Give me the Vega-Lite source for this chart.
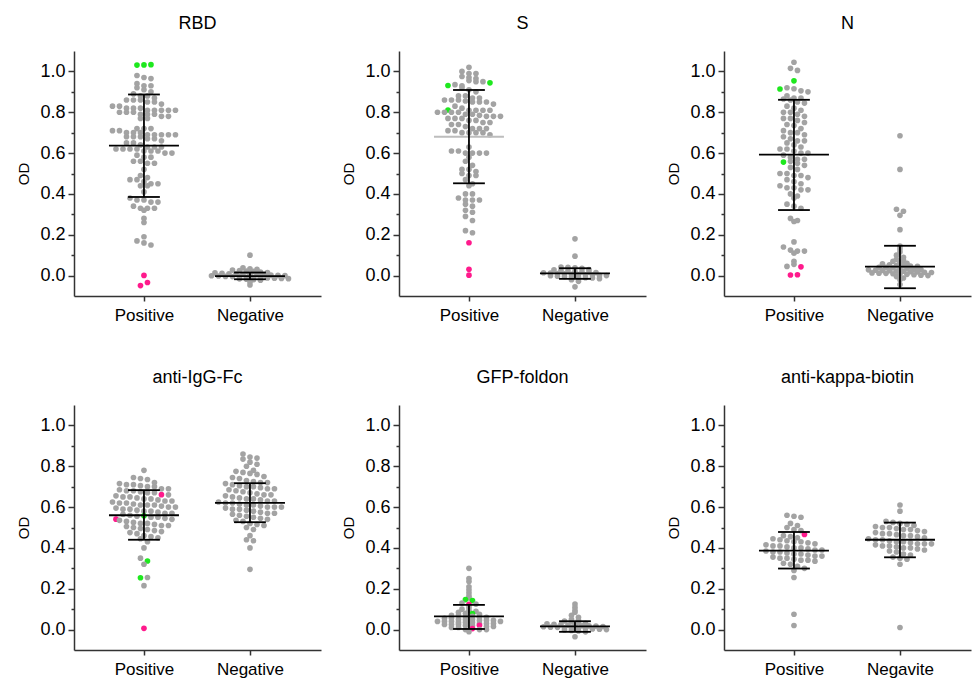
{
  "$schema": "https://vega.github.io/schema/vega-lite/v6.json",
  "padding": {"left": 16, "top": 15, "right": 5, "bottom": 5},
  "background": "white",
  "columns": 3,
  "spacing": {"row": 46, "column": 20},
  "datasets": {
    "highlights": [
      {"v": 1.031, "m": "B"}, {"v": 1.032, "m": "B"}, {"v": 1.033, "m": "B"}, {"v": 0.001, "m": "A"}, {"v": -0.049, "m": "A"}, {"v": -0.034, "m": "A"},
      {"v": 0.811, "m": "B"}, {"v": 0.931, "m": "B"}, {"v": 0.944, "m": "B"}, {"v": 0.161, "m": "A"}, {"v": 0.031, "m": "A"}, {"v": 0.002, "m": "A"},
      {"v": 0.954, "m": "B"}, {"v": 0.914, "m": "B"}, {"v": 0.556, "m": "B"}, {"v": 0.043, "m": "A"}, {"v": 0.003, "m": "A"}, {"v": 0.004, "m": "A"},
      {"v": 0.661, "m": "A"}, {"v": 0.541, "m": "A"}, {"v": 0.006, "m": "A"}, {"v": 0.557, "m": "B"}, {"v": 0.336, "m": "B"}, {"v": 0.254, "m": "B"},
      {"v": 0.147, "m": "B"}, {"v": 0.142, "m": "B"}, {"v": 0.078, "m": "B"}, {"v": 0.124, "m": "A"}, {"v": 0.021, "m": "A"}, {"v": 0.005, "m": "A"},
      {"v": 0.466, "m": "A"}
    ],
    "summary": [
      {"p": "RBD", "g": "Positive", "mean": 0.637, "lo": 0.385, "hi": 0.887},
      {"p": "RBD", "g": "Negative", "mean": -0.003, "lo": -0.018, "hi": 0.015},
      {"p": "S", "g": "Positive", "mean": 0.68, "lo": 0.452, "hi": 0.909},
      {"p": "S", "g": "Negative", "mean": 0.011, "lo": -0.016, "hi": 0.036},
      {"p": "N", "g": "Positive", "mean": 0.592, "lo": 0.321, "hi": 0.861},
      {"p": "N", "g": "Negative", "mean": 0.044, "lo": -0.062, "hi": 0.146},
      {"p": "anti-IgG-Fc", "g": "Positive", "mean": 0.56, "lo": 0.44, "hi": 0.683},
      {"p": "anti-IgG-Fc", "g": "Negative", "mean": 0.621, "lo": 0.526, "hi": 0.717},
      {"p": "GFP-foldon", "g": "Positive", "mean": 0.065, "lo": 0.003, "hi": 0.121},
      {"p": "GFP-foldon", "g": "Negative", "mean": 0.016, "lo": -0.011, "hi": 0.041},
      {"p": "anti-kappa-biotin", "g": "Positive", "mean": 0.387, "lo": 0.299, "hi": 0.478},
      {"p": "anti-kappa-biotin", "g": "Negative", "mean": 0.44, "lo": 0.354, "hi": 0.524}
    ],
    "RBD_pos": [1.031,1.032,1.033,0.98,0.97,0.965,0.94,0.93,0.93,0.92,0.91,0.90,0.89,0.88,0.88,0.87,0.86,0.86,0.86,0.85,0.85,0.84,0.83,0.83,0.82,0.82,0.82,0.81,0.81,0.81,0.81,0.81,0.80,0.80,0.80,0.79,0.79,0.79,0.78,0.78,0.77,0.77,0.72,0.72,0.72,0.71,0.71,0.70,0.70,0.70,0.69,0.69,0.69,0.69,0.69,0.68,0.68,0.68,0.67,0.67,0.66,0.65,0.65,0.64,0.63,0.63,0.63,0.62,0.62,0.62,0.62,0.61,0.61,0.61,0.60,0.60,0.59,0.58,0.58,0.56,0.56,0.55,0.55,0.52,0.49,0.48,0.47,0.47,0.46,0.45,0.45,0.44,0.44,0.41,0.38,0.37,0.37,0.36,0.36,0.34,0.33,0.33,0.33,0.32,0.28,0.26,0.19,0.17,0.16,0.15,0.001,-0.049,-0.034],
    "RBD_neg": [0.10,0.038,0.033,0.031,0.027,0.025,0.022,0.021,0.017,0.015,0.013,0.011,0.009,0.008,0.006,0.005,0.004,0.003,0.002,0.001,0,-0.001,-0.002,-0.004,-0.005,-0.006,-0.008,-0.009,-0.01,-0.012,-0.013,-0.014,-0.015,-0.016,-0.018,-0.02,-0.023,-0.031,-0.046],
    "S_pos": [1.02,1.0,0.99,0.99,0.975,0.97,0.965,0.931,0.935,0.93,0.955,0.95,0.95,0.944,0.92,0.91,0.90,0.88,0.88,0.87,0.87,0.86,0.86,0.86,0.855,0.85,0.85,0.85,0.811,0.84,0.83,0.82,0.81,0.81,0.81,0.81,0.80,0.80,0.80,0.80,0.79,0.79,0.785,0.78,0.78,0.78,0.77,0.77,0.77,0.76,0.76,0.75,0.75,0.74,0.74,0.73,0.72,0.72,0.72,0.71,0.71,0.70,0.70,0.70,0.70,0.69,0.63,0.61,0.61,0.60,0.60,0.60,0.60,0.58,0.56,0.54,0.52,0.52,0.51,0.50,0.49,0.49,0.47,0.45,0.44,0.40,0.40,0.38,0.37,0.37,0.37,0.35,0.34,0.32,0.31,0.29,0.27,0.22,0.21,0.161,0.031,0.002],
    "S_neg": [0.18,0.095,0.042,0.04,0.038,0.035,0.03,0.028,0.025,0.022,0.02,0.019,0.017,0.015,0.014,0.012,0.01,0.008,0.006,0.005,0.004,0.003,0.001,0,-0.001,-0.003,-0.005,-0.006,-0.008,-0.01,-0.012,-0.015,-0.02,-0.028,-0.055],
    "N_pos": [1.045,1.015,1.005,0.954,0.914,0.92,0.915,0.905,0.90,0.88,0.87,0.87,0.865,0.86,0.85,0.845,0.83,0.82,0.81,0.80,0.80,0.79,0.78,0.77,0.77,0.76,0.75,0.74,0.735,0.72,0.71,0.70,0.70,0.69,0.68,0.67,0.66,0.66,0.65,0.64,0.63,0.62,0.62,0.61,0.60,0.60,0.59,0.58,0.57,0.57,0.556,0.56,0.55,0.54,0.53,0.52,0.50,0.50,0.49,0.49,0.48,0.47,0.46,0.45,0.44,0.43,0.43,0.42,0.42,0.40,0.39,0.38,0.35,0.34,0.33,0.28,0.27,0.265,0.165,0.14,0.125,0.12,0.12,0.11,0.07,0.045,0.055,0.043,0.003,0.004],
    "N_neg": [0.685,0.52,0.325,0.315,0.295,0.225,0.145,0.13,0.115,0.1,0.09,0.08,0.075,0.07,0.065,0.06,0.057,0.053,0.05,0.049,0.046,0.045,0.041,0.04,0.038,0.037,0.034,0.031,0.03,0.028,0.026,0.025,0.024,0.022,0.021,0.019,0.018,0.016,0.015,0.013,0.012,0.011,0.009,0.008,0.006,0.004,0.002,0,-0.005,-0.012,-0.02,-0.044],
    "IgG_pos": [0.78,0.745,0.74,0.735,0.72,0.715,0.71,0.71,0.705,0.70,0.70,0.69,0.69,0.685,0.68,0.68,0.675,0.67,0.67,0.661,0.66,0.655,0.65,0.65,0.645,0.64,0.64,0.635,0.63,0.63,0.625,0.62,0.62,0.615,0.61,0.61,0.61,0.605,0.60,0.60,0.595,0.59,0.59,0.585,0.58,0.58,0.575,0.57,0.57,0.541,0.565,0.56,0.555,0.557,0.55,0.55,0.545,0.54,0.535,0.53,0.525,0.52,0.52,0.515,0.51,0.51,0.505,0.50,0.495,0.49,0.485,0.48,0.475,0.47,0.46,0.455,0.45,0.445,0.43,0.40,0.35,0.336,0.32,0.254,0.255,0.215,0.006],
    "IgG_neg": [0.86,0.845,0.84,0.835,0.82,0.81,0.80,0.78,0.775,0.77,0.765,0.76,0.75,0.745,0.74,0.73,0.725,0.72,0.72,0.715,0.71,0.705,0.70,0.70,0.695,0.69,0.69,0.685,0.68,0.675,0.67,0.665,0.66,0.66,0.655,0.65,0.645,0.64,0.64,0.635,0.63,0.63,0.625,0.62,0.62,0.615,0.61,0.61,0.605,0.60,0.60,0.60,0.595,0.59,0.59,0.585,0.58,0.575,0.57,0.57,0.565,0.56,0.555,0.55,0.545,0.54,0.535,0.53,0.52,0.515,0.51,0.50,0.49,0.46,0.44,0.435,0.40,0.295],
    "GFP_pos": [0.30,0.25,0.235,0.21,0.195,0.18,0.165,0.155,0.147,0.142,0.13,0.124,0.125,0.11,0.10,0.095,0.09,0.085,0.08,0.078,0.075,0.07,0.07,0.065,0.065,0.06,0.06,0.055,0.055,0.05,0.05,0.05,0.045,0.045,0.045,0.04,0.04,0.04,0.035,0.035,0.035,0.03,0.03,0.03,0.04,0.025,0.025,0.025,0.02,0.02,0.021,0.015,0.015,0.01,0.01,0,0.005,0,0,-0.01],
    "GFP_neg": [0.125,0.11,0.095,0.085,0.07,0.06,0.05,0.045,0.042,0.038,0.035,0.031,0.028,0.026,0.024,0.022,0.02,0.019,0.018,0.017,0.015,0.014,0.012,0.011,0.009,0.008,0.006,0.005,0.003,0.002,0,-0.002,-0.004,-0.007,-0.011,-0.035],
    "kappa_pos": [0.56,0.555,0.55,0.52,0.51,0.50,0.49,0.485,0.46,0.455,0.45,0.466,0.445,0.44,0.435,0.43,0.43,0.425,0.42,0.415,0.41,0.41,0.405,0.40,0.40,0.395,0.39,0.39,0.385,0.38,0.38,0.375,0.37,0.37,0.365,0.36,0.36,0.355,0.35,0.35,0.345,0.34,0.34,0.335,0.325,0.32,0.31,0.30,0.29,0.255,0.075,0.02],
    "kappa_neg": [0.61,0.58,0.53,0.525,0.52,0.515,0.51,0.505,0.50,0.50,0.495,0.49,0.49,0.485,0.48,0.475,0.47,0.47,0.465,0.46,0.46,0.455,0.45,0.445,0.44,0.44,0.435,0.43,0.43,0.425,0.42,0.42,0.42,0.415,0.41,0.41,0.405,0.40,0.40,0.395,0.39,0.385,0.38,0.37,0.365,0.355,0.35,0.345,0.32,0.01]
  },
  "concat": [
    {
      "title": {"text": "RBD"},
      "width": 247, "height": 245,
      "encoding": {
        "x": {"field": "x", "type": "quantitative", "scale": {"domain": [-0.66, 1.67], "nice": false, "zero": false}, "axis": {"values": [0, 1], "labelExpr": "datum.value == 0 ? 'Positive' : 'Negative'", "title": null}},
        "y": {"field": "val", "type": "quantitative", "scale": {"domain": [-0.1, 1.1], "nice": false, "zero": false}, "axis": {"title": "OD", "values": [0, 0.1, 0.2, 0.3, 0.4, 0.5, 0.6, 0.7, 0.8, 0.9, 1], "labelExpr": "round(datum.value*10) % 2 == 1 ? '' : format(datum.value, '.1f')", "tickSize": {"condition": {"test": "round(datum.value*10) % 2 == 1", "value": 3}, "value": 6}}}
      },
      "layer": [
        {"data": {"name": "RBD_pos"},
         "transform": [{"lookup": "data", "from": {"data": {"name": "highlights"}, "key": "v", "fields": ["m"]}, "default": "none"}, {"calculate": "datum.data", "as": "val"}, {"calculate": "floor(round(datum.val*1000)/30)", "as": "b"}, {"window": [{"op": "row_number", "as": "k"}], "groupby": ["b"]}, {"joinaggregate": [{"op": "count", "as": "n"}], "groupby": ["b"]}, {"calculate": "(datum.k-1-(datum.n-1)/2)*0.066", "as": "x"}],
         "mark": "circle",
         "encoding": {"color": {"field": "m", "type": "nominal", "scale": {"domain": ["none", "A", "B"], "range": ["#a3a3a3", "#ff1a8c", "#1ee81e"]}, "legend": null}}},
        {"data": {"name": "RBD_neg"},
         "transform": [{"calculate": "datum.data", "as": "val"}, {"calculate": "floor(round(datum.val*1000)/15)", "as": "b"}, {"window": [{"op": "row_number", "as": "k"}], "groupby": ["b"]}, {"joinaggregate": [{"op": "count", "as": "n"}], "groupby": ["b"]}, {"calculate": "1+(datum.k-1-(datum.n-1)/2)*0.066", "as": "x"}],
         "mark": {"type": "circle", "color": "#a3a3a3"}},
        {"data": {"name": "summary"},
         "transform": [{"filter": "datum.p == 'RBD'"}, {"calculate": "datum.g == 'Positive' ? 0 : 1", "as": "xc"}],
         "layer": [
           {"transform": [{"fold": ["mean", "lo", "hi"], "as": ["k", "val"]}, {"calculate": "datum.xc - (datum.k == 'mean' ? 0.33 : 0.15)", "as": "x"}, {"calculate": "datum.xc + (datum.k == 'mean' ? 0.33 : 0.15)", "as": "x2"}], "mark": "rule", "encoding": {"x2": {"field": "x2"}}},
           {"transform": [{"calculate": "datum.xc", "as": "x"}, {"calculate": "datum.lo", "as": "val"}], "mark": "rule", "encoding": {"y2": {"field": "hi"}}}
         ]}
      ]
    },
    {
      "title": {"text": "S"},
      "width": 247, "height": 245,
      "encoding": {
        "x": {"field": "x", "type": "quantitative", "scale": {"domain": [-0.66, 1.67], "nice": false, "zero": false}, "axis": {"values": [0, 1], "labelExpr": "datum.value == 0 ? 'Positive' : 'Negative'", "title": null}},
        "y": {"field": "val", "type": "quantitative", "scale": {"domain": [-0.1, 1.1], "nice": false, "zero": false}, "axis": {"title": "OD", "values": [0, 0.1, 0.2, 0.3, 0.4, 0.5, 0.6, 0.7, 0.8, 0.9, 1], "labelExpr": "round(datum.value*10) % 2 == 1 ? '' : format(datum.value, '.1f')", "tickSize": {"condition": {"test": "round(datum.value*10) % 2 == 1", "value": 3}, "value": 6}}}
      },
      "layer": [
        {"data": {"name": "S_pos"},
         "transform": [{"lookup": "data", "from": {"data": {"name": "highlights"}, "key": "v", "fields": ["m"]}, "default": "none"}, {"calculate": "datum.data", "as": "val"}, {"calculate": "floor(round(datum.val*1000)/30)", "as": "b"}, {"window": [{"op": "row_number", "as": "k"}], "groupby": ["b"]}, {"joinaggregate": [{"op": "count", "as": "n"}], "groupby": ["b"]}, {"calculate": "(datum.k-1-(datum.n-1)/2)*0.066", "as": "x"}],
         "mark": "circle",
         "encoding": {"color": {"field": "m", "type": "nominal", "scale": {"domain": ["none", "A", "B"], "range": ["#a3a3a3", "#ff1a8c", "#1ee81e"]}, "legend": null}}},
        {"data": {"name": "S_neg"},
         "transform": [{"calculate": "datum.data", "as": "val"}, {"calculate": "floor(round(datum.val*1000)/15)", "as": "b"}, {"window": [{"op": "row_number", "as": "k"}], "groupby": ["b"]}, {"joinaggregate": [{"op": "count", "as": "n"}], "groupby": ["b"]}, {"calculate": "1+(datum.k-1-(datum.n-1)/2)*0.066", "as": "x"}],
         "mark": {"type": "circle", "color": "#a3a3a3"}},
        {"data": {"name": "summary"},
         "transform": [{"filter": "datum.p == 'S'"}, {"calculate": "datum.g == 'Positive' ? 0 : 1", "as": "xc"}],
         "layer": [
           {"transform": [{"fold": ["mean", "lo", "hi"], "as": ["k", "val"]}, {"calculate": "datum.xc - (datum.k == 'mean' ? 0.33 : 0.15)", "as": "x"}, {"calculate": "datum.xc + (datum.k == 'mean' ? 0.33 : 0.15)", "as": "x2"}], "mark": "rule",
            "encoding": {"x2": {"field": "x2"}, "color": {"condition": {"test": "datum.g == 'Positive' && datum.k == 'mean'", "value": "#bdbdbd"}, "value": "black"}}},
           {"transform": [{"calculate": "datum.xc", "as": "x"}, {"calculate": "datum.lo", "as": "val"}], "mark": "rule", "encoding": {"y2": {"field": "hi"}}}
         ]}
      ]
    },
    {
      "title": {"text": "N"},
      "width": 247, "height": 245,
      "encoding": {
        "x": {"field": "x", "type": "quantitative", "scale": {"domain": [-0.66, 1.67], "nice": false, "zero": false}, "axis": {"values": [0, 1], "labelExpr": "datum.value == 0 ? 'Positive' : 'Negative'", "title": null}},
        "y": {"field": "val", "type": "quantitative", "scale": {"domain": [-0.1, 1.1], "nice": false, "zero": false}, "axis": {"title": "OD", "values": [0, 0.1, 0.2, 0.3, 0.4, 0.5, 0.6, 0.7, 0.8, 0.9, 1], "labelExpr": "round(datum.value*10) % 2 == 1 ? '' : format(datum.value, '.1f')", "tickSize": {"condition": {"test": "round(datum.value*10) % 2 == 1", "value": 3}, "value": 6}}}
      },
      "layer": [
        {"data": {"name": "N_pos"},
         "transform": [{"lookup": "data", "from": {"data": {"name": "highlights"}, "key": "v", "fields": ["m"]}, "default": "none"}, {"calculate": "datum.data", "as": "val"}, {"calculate": "floor(round(datum.val*1000)/30)", "as": "b"}, {"window": [{"op": "row_number", "as": "k"}], "groupby": ["b"]}, {"joinaggregate": [{"op": "count", "as": "n"}], "groupby": ["b"]}, {"calculate": "(datum.k-1-(datum.n-1)/2)*0.066", "as": "x"}],
         "mark": "circle",
         "encoding": {"color": {"field": "m", "type": "nominal", "scale": {"domain": ["none", "A", "B"], "range": ["#a3a3a3", "#ff1a8c", "#1ee81e"]}, "legend": null}}},
        {"data": {"name": "N_neg"},
         "transform": [{"calculate": "datum.data", "as": "val"}, {"calculate": "floor(round(datum.val*1000)/15)", "as": "b"}, {"window": [{"op": "row_number", "as": "k"}], "groupby": ["b"]}, {"joinaggregate": [{"op": "count", "as": "n"}], "groupby": ["b"]}, {"calculate": "1+(datum.k-1-(datum.n-1)/2)*0.066", "as": "x"}],
         "mark": {"type": "circle", "color": "#a3a3a3"}},
        {"data": {"name": "summary"},
         "transform": [{"filter": "datum.p == 'N'"}, {"calculate": "datum.g == 'Positive' ? 0 : 1", "as": "xc"}],
         "layer": [
           {"transform": [{"fold": ["mean", "lo", "hi"], "as": ["k", "val"]}, {"calculate": "datum.xc - (datum.k == 'mean' ? 0.33 : 0.15)", "as": "x"}, {"calculate": "datum.xc + (datum.k == 'mean' ? 0.33 : 0.15)", "as": "x2"}], "mark": "rule", "encoding": {"x2": {"field": "x2"}}},
           {"transform": [{"calculate": "datum.xc", "as": "x"}, {"calculate": "datum.lo", "as": "val"}], "mark": "rule", "encoding": {"y2": {"field": "hi"}}}
         ]}
      ]
    },
    {
      "title": {"text": "anti-IgG-Fc"},
      "width": 247, "height": 245,
      "encoding": {
        "x": {"field": "x", "type": "quantitative", "scale": {"domain": [-0.66, 1.67], "nice": false, "zero": false}, "axis": {"values": [0, 1], "labelExpr": "datum.value == 0 ? 'Positive' : 'Negative'", "title": null}},
        "y": {"field": "val", "type": "quantitative", "scale": {"domain": [-0.1, 1.1], "nice": false, "zero": false}, "axis": {"title": "OD", "values": [0, 0.1, 0.2, 0.3, 0.4, 0.5, 0.6, 0.7, 0.8, 0.9, 1], "labelExpr": "round(datum.value*10) % 2 == 1 ? '' : format(datum.value, '.1f')", "tickSize": {"condition": {"test": "round(datum.value*10) % 2 == 1", "value": 3}, "value": 6}}}
      },
      "layer": [
        {"data": {"name": "IgG_pos"},
         "transform": [{"lookup": "data", "from": {"data": {"name": "highlights"}, "key": "v", "fields": ["m"]}, "default": "none"}, {"calculate": "datum.data", "as": "val"}, {"calculate": "floor(round(datum.val*1000)/30)", "as": "b"}, {"window": [{"op": "row_number", "as": "k"}], "groupby": ["b"]}, {"joinaggregate": [{"op": "count", "as": "n"}], "groupby": ["b"]}, {"calculate": "(datum.k-1-(datum.n-1)/2)*0.066", "as": "x"}],
         "mark": "circle",
         "encoding": {"color": {"field": "m", "type": "nominal", "scale": {"domain": ["none", "A", "B"], "range": ["#a3a3a3", "#ff1a8c", "#1ee81e"]}, "legend": null}}},
        {"data": {"name": "IgG_neg"},
         "transform": [{"calculate": "datum.data", "as": "val"}, {"calculate": "floor(round(datum.val*1000)/30)", "as": "b"}, {"window": [{"op": "row_number", "as": "k"}], "groupby": ["b"]}, {"joinaggregate": [{"op": "count", "as": "n"}], "groupby": ["b"]}, {"calculate": "1+(datum.k-1-(datum.n-1)/2)*0.066", "as": "x"}],
         "mark": {"type": "circle", "color": "#a3a3a3"}},
        {"data": {"name": "summary"},
         "transform": [{"filter": "datum.p == 'anti-IgG-Fc'"}, {"calculate": "datum.g == 'Positive' ? 0 : 1", "as": "xc"}],
         "layer": [
           {"transform": [{"fold": ["mean", "lo", "hi"], "as": ["k", "val"]}, {"calculate": "datum.xc - (datum.k == 'mean' ? 0.33 : 0.15)", "as": "x"}, {"calculate": "datum.xc + (datum.k == 'mean' ? 0.33 : 0.15)", "as": "x2"}], "mark": "rule", "encoding": {"x2": {"field": "x2"}}},
           {"transform": [{"calculate": "datum.xc", "as": "x"}, {"calculate": "datum.lo", "as": "val"}], "mark": "rule", "encoding": {"y2": {"field": "hi"}}}
         ]}
      ]
    },
    {
      "title": {"text": "GFP-foldon"},
      "width": 247, "height": 245,
      "encoding": {
        "x": {"field": "x", "type": "quantitative", "scale": {"domain": [-0.66, 1.67], "nice": false, "zero": false}, "axis": {"values": [0, 1], "labelExpr": "datum.value == 0 ? 'Positive' : 'Negative'", "title": null}},
        "y": {"field": "val", "type": "quantitative", "scale": {"domain": [-0.1, 1.1], "nice": false, "zero": false}, "axis": {"title": "OD", "values": [0, 0.1, 0.2, 0.3, 0.4, 0.5, 0.6, 0.7, 0.8, 0.9, 1], "labelExpr": "round(datum.value*10) % 2 == 1 ? '' : format(datum.value, '.1f')", "tickSize": {"condition": {"test": "round(datum.value*10) % 2 == 1", "value": 3}, "value": 6}}}
      },
      "layer": [
        {"data": {"name": "GFP_pos"},
         "transform": [{"lookup": "data", "from": {"data": {"name": "highlights"}, "key": "v", "fields": ["m"]}, "default": "none"}, {"calculate": "datum.data", "as": "val"}, {"calculate": "floor(round(datum.val*1000)/15)", "as": "b"}, {"window": [{"op": "row_number", "as": "k"}], "groupby": ["b"]}, {"joinaggregate": [{"op": "count", "as": "n"}], "groupby": ["b"]}, {"calculate": "(datum.k-1-(datum.n-1)/2)*0.066", "as": "x"}],
         "mark": "circle",
         "encoding": {"color": {"field": "m", "type": "nominal", "scale": {"domain": ["none", "A", "B"], "range": ["#a3a3a3", "#ff1a8c", "#1ee81e"]}, "legend": null}}},
        {"data": {"name": "GFP_neg"},
         "transform": [{"calculate": "datum.data", "as": "val"}, {"calculate": "floor(round(datum.val*1000)/15)", "as": "b"}, {"window": [{"op": "row_number", "as": "k"}], "groupby": ["b"]}, {"joinaggregate": [{"op": "count", "as": "n"}], "groupby": ["b"]}, {"calculate": "1+(datum.k-1-(datum.n-1)/2)*0.066", "as": "x"}],
         "mark": {"type": "circle", "color": "#a3a3a3"}},
        {"data": {"name": "summary"},
         "transform": [{"filter": "datum.p == 'GFP-foldon'"}, {"calculate": "datum.g == 'Positive' ? 0 : 1", "as": "xc"}],
         "layer": [
           {"transform": [{"fold": ["mean", "lo", "hi"], "as": ["k", "val"]}, {"calculate": "datum.xc - (datum.k == 'mean' ? 0.33 : 0.15)", "as": "x"}, {"calculate": "datum.xc + (datum.k == 'mean' ? 0.33 : 0.15)", "as": "x2"}], "mark": "rule", "encoding": {"x2": {"field": "x2"}}},
           {"transform": [{"calculate": "datum.xc", "as": "x"}, {"calculate": "datum.lo", "as": "val"}], "mark": "rule", "encoding": {"y2": {"field": "hi"}}}
         ]}
      ]
    },
    {
      "title": {"text": "anti-kappa-biotin"},
      "width": 247, "height": 245,
      "encoding": {
        "x": {"field": "x", "type": "quantitative", "scale": {"domain": [-0.66, 1.67], "nice": false, "zero": false}, "axis": {"values": [0, 1], "labelExpr": "datum.value == 0 ? 'Positive' : 'Negavite'", "title": null}},
        "y": {"field": "val", "type": "quantitative", "scale": {"domain": [-0.1, 1.1], "nice": false, "zero": false}, "axis": {"title": "OD", "values": [0, 0.1, 0.2, 0.3, 0.4, 0.5, 0.6, 0.7, 0.8, 0.9, 1], "labelExpr": "round(datum.value*10) % 2 == 1 ? '' : format(datum.value, '.1f')", "tickSize": {"condition": {"test": "round(datum.value*10) % 2 == 1", "value": 3}, "value": 6}}}
      },
      "layer": [
        {"data": {"name": "kappa_pos"},
         "transform": [{"lookup": "data", "from": {"data": {"name": "highlights"}, "key": "v", "fields": ["m"]}, "default": "none"}, {"calculate": "datum.data", "as": "val"}, {"calculate": "floor(round(datum.val*1000)/30)", "as": "b"}, {"window": [{"op": "row_number", "as": "k"}], "groupby": ["b"]}, {"joinaggregate": [{"op": "count", "as": "n"}], "groupby": ["b"]}, {"calculate": "(datum.k-1-(datum.n-1)/2)*0.066", "as": "x"}],
         "mark": "circle",
         "encoding": {"color": {"field": "m", "type": "nominal", "scale": {"domain": ["none", "A", "B"], "range": ["#a3a3a3", "#ff1a8c", "#1ee81e"]}, "legend": null}}},
        {"data": {"name": "kappa_neg"},
         "transform": [{"calculate": "datum.data", "as": "val"}, {"calculate": "floor(round(datum.val*1000)/30)", "as": "b"}, {"window": [{"op": "row_number", "as": "k"}], "groupby": ["b"]}, {"joinaggregate": [{"op": "count", "as": "n"}], "groupby": ["b"]}, {"calculate": "1+(datum.k-1-(datum.n-1)/2)*0.066", "as": "x"}],
         "mark": {"type": "circle", "color": "#a3a3a3"}},
        {"data": {"name": "summary"},
         "transform": [{"filter": "datum.p == 'anti-kappa-biotin'"}, {"calculate": "datum.g == 'Positive' ? 0 : 1", "as": "xc"}],
         "layer": [
           {"transform": [{"fold": ["mean", "lo", "hi"], "as": ["k", "val"]}, {"calculate": "datum.xc - (datum.k == 'mean' ? 0.33 : 0.15)", "as": "x"}, {"calculate": "datum.xc + (datum.k == 'mean' ? 0.33 : 0.15)", "as": "x2"}], "mark": "rule", "encoding": {"x2": {"field": "x2"}}},
           {"transform": [{"calculate": "datum.xc", "as": "x"}, {"calculate": "datum.lo", "as": "val"}], "mark": "rule", "encoding": {"y2": {"field": "hi"}}}
         ]}
      ]
    }
  ],
  "config": {
    "view": {"stroke": null},
    "font": "Liberation Sans",
    "title": {"fontSize": 18, "fontWeight": "normal", "font": "Liberation Sans", "anchor": "middle", "color": "black", "offset": 18, "baseline": "alphabetic"},
    "axis": {"grid": false, "domainColor": "#333333", "domainWidth": 1.5, "tickColor": "#333333", "tickWidth": 1.5, "labelColor": "black", "titleColor": "black", "labelFont": "Liberation Sans", "titleFont": "Liberation Sans", "titleFontWeight": "normal"},
    "axisX": {"labelFontSize": 17, "tickSize": 5, "labelPadding": 6},
    "axisY": {"labelFontSize": 18, "labelPadding": 3, "titleFontSize": 15, "titlePadding": 8},
    "circle": {"size": 32, "opacity": 1},
    "rule": {"color": "black", "strokeWidth": 1.8}
  }
}
